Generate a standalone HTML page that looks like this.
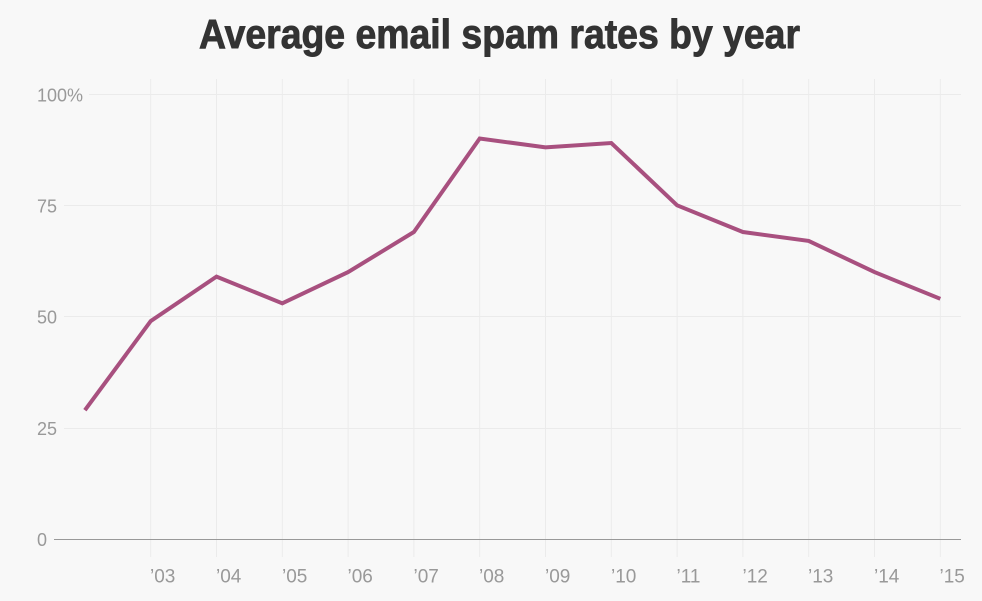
<!DOCTYPE html>
<html><head><meta charset="utf-8"><style>
html,body{margin:0;padding:0;background:#f8f8f8;}
svg{display:block;}
</style></head><body>
<svg width="982" height="601" viewBox="0 0 982 601" xmlns="http://www.w3.org/2000/svg">
<rect width="982" height="601" fill="#f8f8f8"/>
<text x="199" y="48" font-family="Liberation Sans, sans-serif" font-weight="bold" font-size="41" fill="#333" stroke="#333" stroke-width="0.9" textLength="601" lengthAdjust="spacingAndGlyphs">Average email spam rates by year</text>
<g stroke="#ebebeb" stroke-width="1">
<line x1="150.7" y1="79" x2="150.7" y2="557"/>
<line x1="216.5" y1="79" x2="216.5" y2="557"/>
<line x1="282.3" y1="79" x2="282.3" y2="557"/>
<line x1="348.1" y1="79" x2="348.1" y2="557"/>
<line x1="413.9" y1="79" x2="413.9" y2="557"/>
<line x1="479.7" y1="79" x2="479.7" y2="557"/>
<line x1="545.5" y1="79" x2="545.5" y2="557"/>
<line x1="611.3" y1="79" x2="611.3" y2="557"/>
<line x1="677.1" y1="79" x2="677.1" y2="557"/>
<line x1="742.9" y1="79" x2="742.9" y2="557"/>
<line x1="808.7" y1="79" x2="808.7" y2="557"/>
<line x1="874.5" y1="79" x2="874.5" y2="557"/>
<line x1="940.3" y1="79" x2="940.3" y2="557"/>
<line x1="89" y1="94.5" x2="961" y2="94.5"/>
<line x1="64" y1="205.5" x2="961" y2="205.5"/>
<line x1="64" y1="316.5" x2="961" y2="316.5"/>
<line x1="64" y1="428.5" x2="961" y2="428.5"/>
</g>
<line x1="54" y1="539.5" x2="961" y2="539.5" stroke="#999" stroke-width="1"/>
<g font-family="Liberation Sans, sans-serif" font-size="18" fill="#999">
<text x="37" y="101.5">100%</text>
<text x="37" y="212.5">75</text>
<text x="37" y="323.5">50</text>
<text x="37" y="435">25</text>
<text x="37" y="546">0</text>
</g>
<g font-family="Liberation Sans, sans-serif" font-size="19" fill="#999">
<text x="150" y="582.5">’03</text>
<text x="216" y="582.5">’04</text>
<text x="282" y="582.5">’05</text>
<text x="347.5" y="582.5">’06</text>
<text x="413.5" y="582.5">’07</text>
<text x="479" y="582.5">’08</text>
<text x="545" y="582.5">’09</text>
<text x="611" y="582.5">’10</text>
<text x="676.5" y="582.5">’11</text>
<text x="742.5" y="582.5">’12</text>
<text x="808" y="582.5">’13</text>
<text x="874" y="582.5">’14</text>
<text x="939.5" y="582.5">’15</text>
</g>
<polyline fill="none" stroke="#a8507f" stroke-width="4" stroke-linejoin="miter" stroke-linecap="butt"
points="84.9,410.2 150.7,321.1 216.5,276.6 282.3,303.3 348.1,272.1 413.9,232 479.7,138.5 545.5,147.4 611.3,143 677.1,205.3 742.9,232 808.7,240.9 874.5,272.1 940.3,298.8"/>
</svg>
</body></html>
